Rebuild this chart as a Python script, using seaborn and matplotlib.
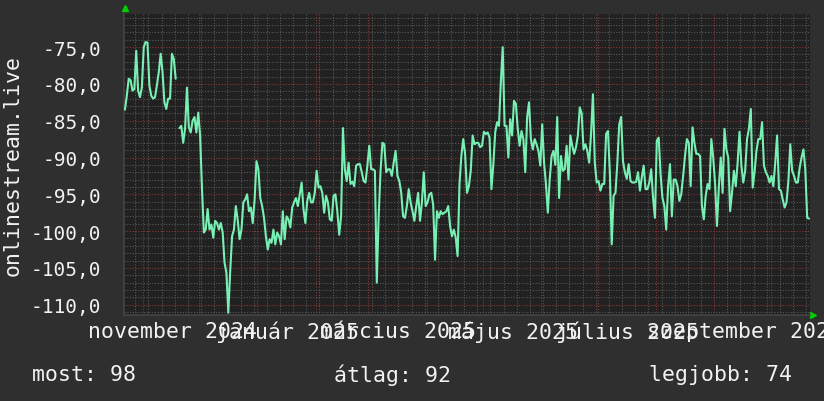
import numpy as np
import pandas as pd
import seaborn as sns
import matplotlib.pyplot as plt
import matplotlib.dates as mdates
from matplotlib.ticker import MultipleLocator, FuncFormatter

# napi jelerősség (dBm), 2024-10-22 -> 2025-10-21, egy érték naponta
start = pd.Timestamp('2024-10-22')

rssi_oct_jan = [
    -83.5, -81.6, -79.3, -79.5, -80.9, -80.7, -75.5, -80.9, -81.8, -80.5,
    -75.0, -74.3, -74.4, -80.2, -81.6, -82.0, -81.8, -80.2, -78.4, -75.9,
    -78.4, -82.5, -83.4, -82.0, -82.0, -75.9, -76.6, -79.3, np.nan, -86.0,
    -85.7, -88.0, -86.1, -80.5, -85.9, -86.6, -85.0, -84.5, -86.6, -83.9,
    -87.0, -94.3, -100.2, -99.8, -97.0, -99.8, -99.1, -100.9, -98.6, -98.9,
    -99.8, -98.9, -100.2, -104.3, -105.7, -111.1, -105.5, -100.7, -99.8, -96.6,
    -98.5, -101.1, -99.8, -96.1, -95.7, -95.0, -97.3, -96.8, -98.9, -95.7,
    -90.5, -91.6, -95.5, -96.6, -98.2, -100.7, -102.5, -101.1, -101.6, -99.8,
    -101.8, -100.2, -100.7, -101.8, -97.3, -101.1, -98.0, -98.4, -99.5, -96.8,
]
rssi_jan_apr = [
    -96.1, -95.5, -96.6, -95.0, -93.4, -97.0, -98.9, -95.9, -94.8, -96.1,
    -96.1, -94.8, -91.8, -94.1, -93.9, -94.8, -97.5, -95.2, -96.1, -98.4,
    -98.6, -95.2, -95.0, -97.3, -100.5, -98.0, -86.0, -91.6, -93.2, -90.7,
    -93.6, -93.3, -93.9, -91.1, -90.9, -90.9, -92.0, -93.2, -93.4, -91.1,
    -88.4, -91.6, -91.6, -91.8, -107.0, -98.0, -91.8, -88.0, -88.2, -92.0,
    -91.6, -91.6, -92.5, -90.7, -89.1, -92.5, -93.2, -94.8, -98.0, -98.2,
    -96.6, -94.3, -96.1, -97.3, -98.6, -96.6, -94.8, -98.6, -96.1, -92.0,
    -96.6, -96.1, -95.0, -94.8, -96.4, -103.9, -97.3, -98.2, -97.3, -97.7,
    -97.5, -97.3, -96.6, -99.3, -100.7, -99.8, -100.9, -103.4, -93.6, -89.8,
]
rssi_apr_jul = [
    -87.5, -89.5, -94.8, -93.9, -91.8, -87.0, -88.2, -88.0, -88.0, -88.6,
    -88.4, -86.5, -86.8, -86.6, -87.3, -94.3, -91.0, -86.6, -85.2, -85.7,
    -79.8, -75.0, -85.7, -85.7, -90.0, -84.8, -87.0, -82.3, -82.7, -86.1,
    -88.4, -86.4, -87.5, -92.0, -84.5, -82.5, -87.5, -88.9, -87.5, -88.2,
    -89.1, -91.1, -85.5, -90.7, -93.6, -97.5, -93.0, -89.8, -89.1, -91.0,
    -84.5, -95.5, -89.8, -91.8, -91.6, -88.4, -93.0, -87.0, -88.4, -89.5,
    -88.6, -87.0, -83.2, -84.0, -88.9, -88.2, -89.1, -90.7, -86.8, -81.4,
    -90.7, -93.4, -93.2, -94.5, -93.6, -93.6, -86.8, -86.4, -92.0, -101.8,
    -95.2, -94.8, -90.7, -85.5, -84.5, -90.5, -92.0, -92.9, -90.9, -93.2,
]
rssi_jul_oct = [
    -93.4, -93.4, -93.3, -92.0, -94.5, -92.7, -91.1, -94.3, -94.3, -93.4,
    -91.6, -95.5, -98.2, -87.7, -87.3, -92.3, -95.5, -96.6, -99.8, -93.9,
    -90.9, -98.0, -93.0, -93.0, -93.9, -95.9, -95.0, -92.5, -89.8, -87.5,
    -88.0, -93.9, -85.9, -88.0, -89.5, -89.5, -89.8, -96.6, -98.4, -95.2,
    -93.6, -94.3, -87.5, -90.0, -93.6, -99.3, -94.0, -90.0, -94.8, -86.1,
    -88.9, -90.0, -97.3, -94.8, -91.8, -93.9, -90.7, -86.5, -91.1, -93.4,
    -91.8, -87.5, -86.1, -83.4, -94.1, -92.0, -89.1, -87.5, -87.5, -85.2,
    -91.1, -92.0, -92.5, -93.4, -92.5, -93.9, -90.7, -87.0, -94.3, -94.5,
    -95.7, -96.8, -96.1, -93.2, -88.2, -91.8, -92.5, -93.4, -93.4, -91.4,
    -90.0, -88.9, -91.6, -98.2, -98.3,
]

ytick_values = [-75, -80, -85, -90, -95, -100, -105, -110]
month_labels = ['november 2024', 'január 2025', 'március 2025',
                'május 2025', 'július 2025', 'szeptember 2025']
month_label_dates = ['2024-11-17', '2025-01-17', '2025-03-17',
                     '2025-05-17', '2025-07-17', '2025-09-17']
legend_texts = ['most: 98', 'átlag: 92', 'legjobb: 74']

values = np.array(rssi_oct_jan + rssi_jan_apr + rssi_apr_jul + rssi_jul_oct, dtype=float)
dates = start + pd.to_timedelta(np.arange(len(values)) + 0.5, unit='D')
df = pd.DataFrame({'date': dates, 'val': values})
df['seg'] = df['val'].isna().cumsum()  # hiányzó nap -> szakadás a vonalban
df = df.dropna()

# színek
bg = '#2f2f2f'
canvas = '#212121'
fg = '#f2f2f2'

sns.set_style('dark', {'axes.facecolor': canvas, 'figure.facecolor': bg})
plt.rcParams['font.family'] = ['DejaVu Sans Mono', 'DejaVu Sans']

W, H = 824, 402
fig = plt.figure(figsize=(W / 100, H / 100), dpi=100, facecolor=bg)
ax = fig.add_axes([124 / W, 86 / H, 686 / W, 301 / H])
ax.set_facecolor(canvas)

sns.lineplot(data=df, x='date', y='val', units='seg', estimator=None,
             color='#78f0b4', linewidth=1.5, ax=ax, zorder=3)

ax.set_xlim(start, start + pd.Timedelta(days=365))
ax.set_ylim(-111.4, -70.5)

# rács
ax.xaxis.set_major_locator(mdates.MonthLocator())
ax.xaxis.set_minor_locator(mdates.WeekdayLocator(byweekday=mdates.MO))
ax.yaxis.set_major_locator(plt.FixedLocator(ytick_values))
ax.yaxis.set_minor_locator(MultipleLocator(1))
ax.grid(which='minor', color='#585858', linestyle=(0, (1, 1.5)), linewidth=0.8)
ax.grid(which='major', color='#8a3535', linestyle=(0, (1, 1.5)), linewidth=0.8)
ax.set_axisbelow(True)

ax.yaxis.set_major_formatter(FuncFormatter(lambda v, p: f'{v:.1f}'.replace('.', ',')))
ax.tick_params(axis='y', which='major', labelsize=14, labelcolor=fg, length=2.5,
               color='#8a3535', pad=14)
ax.tick_params(axis='y', which='minor', length=2, color='#585858')
ax.tick_params(axis='x', which='major', labelbottom=False, length=3, color='#8a3535')
ax.tick_params(axis='x', which='minor', length=2, color='#585858')

for s in ['top', 'right']:
    ax.spines[s].set_visible(False)
for s in ['left', 'bottom']:
    ax.spines[s].set_color('#444444')
    ax.spines[s].set_linewidth(1.2)

ax.set_xlabel('')
ax.set_ylabel('')

# hónap feliratok
for lab, d in zip(month_labels, month_label_dates):
    ax.text(pd.Timestamp(d), -0.053, lab, transform=ax.get_xaxis_transform(),
            ha='center', va='center', fontsize=15.5, color=fg, clip_on=False)

# tengely nyilak
ax.plot([0.0015], [1.02], marker='^', color='#00d000', markersize=5,
        transform=ax.transAxes, clip_on=False)
ax.plot([1.004], [0.0], marker='>', color='#00d000', markersize=5,
        transform=ax.transAxes, clip_on=False)

fig.text(13 / W, 1 - 165 / H, 'onlinestream.live', rotation=90,
         ha='center', va='center', fontsize=15.5, color=fg)

for txt, x in zip(legend_texts, [32, 334, 649]):
    fig.text(x / W, 1 - 375 / H, txt, ha='left', va='center', fontsize=15.5, color=fg)

fig.savefig('out.png', dpi=100, facecolor=bg)
